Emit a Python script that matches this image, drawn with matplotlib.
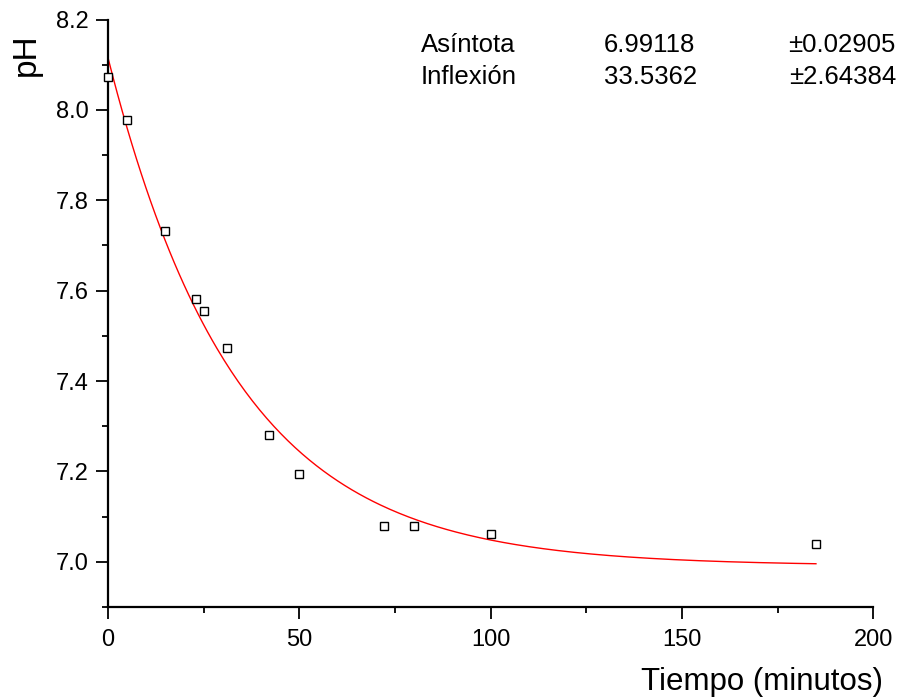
import numpy as np
import matplotlib
matplotlib.use('Agg')
import matplotlib.pyplot as plt
from matplotlib.ticker import MultipleLocator

plt.rcParams['font.family'] = ['Liberation Sans', 'DejaVu Sans']

# measured data
tiempo = [0, 5, 15, 23, 25, 31, 42, 50, 72, 80, 100, 185]
ph = [8.073, 7.978, 7.732, 7.582, 7.555, 7.473, 7.281, 7.194, 7.079, 7.079, 7.062, 7.039]

# fit parameters (exponential decay)
asintota = 6.99118
asintota_err = 0.02905
inflexion = 33.5362
inflexion_err = 2.64384
amplitud = 1.124

fig = plt.figure(figsize=(9.04, 6.98), dpi=100)
ax = fig.add_axes([0.1195, 0.1304, 0.8466, 0.8416])

xf = np.linspace(0, 185, 300)
yf = asintota + amplitud * np.exp(-xf / inflexion)
ax.plot(xf, yf, color='red', lw=1.0, zorder=2)
ax.plot(tiempo, ph, ls='none', marker='s', ms=6, mfc='white', mec='black', mew=1.0,
        zorder=3, clip_on=False)

ax.set_xlim(0, 200)
ax.set_ylim(6.9, 8.2)
ax.xaxis.set_major_locator(MultipleLocator(50))
ax.xaxis.set_minor_locator(MultipleLocator(25))
ax.yaxis.set_minor_locator(MultipleLocator(0.1))
ax.set_yticks([7.0, 7.2, 7.4, 7.6, 7.8, 8.0, 8.2])
ax.set_yticklabels(['7.0', '7.2', '7.4', '7.6', '7.8', '8.0', '8.2'])

for s in ['top', 'right']:
    ax.spines[s].set_visible(False)
for s in ['left', 'bottom']:
    ax.spines[s].set_linewidth(1.6)

ax.tick_params(which='major', direction='out', length=8.6, width=1.3, labelsize=17)
ax.tick_params(which='minor', direction='out', length=4, width=1.3)
ax.tick_params(axis='x', which='major', pad=7.5)
ax.tick_params(axis='y', which='major', pad=5.5)

ax.set_xlabel('Tiempo (minutos)', fontsize=22.5, ha='right', va='baseline')
ax.xaxis.set_label_coords(1.013, -0.1413)
ax.set_ylabel('pH', fontsize=24, ha='center', va='bottom')
ax.yaxis.set_label_coords(-0.087, 0.941)

rows = [('Asíntota', asintota, asintota_err), ('Inflexión', inflexion, inflexion_err)]
for i, (name, val, err) in enumerate(rows):
    yb = 51.7 + i * 32.6
    fig.text(421 / 904, 1 - yb / 698, name, fontsize=18.5, ha='left', va='baseline')
    fig.text(604 / 904, 1 - yb / 698, f'{val:g}', fontsize=18.5, ha='left', va='baseline')
    fig.text(896 / 904, 1 - yb / 698, f'±{err:g}', fontsize=18.5, ha='right', va='baseline')

fig.savefig('out.png', dpi=100)
